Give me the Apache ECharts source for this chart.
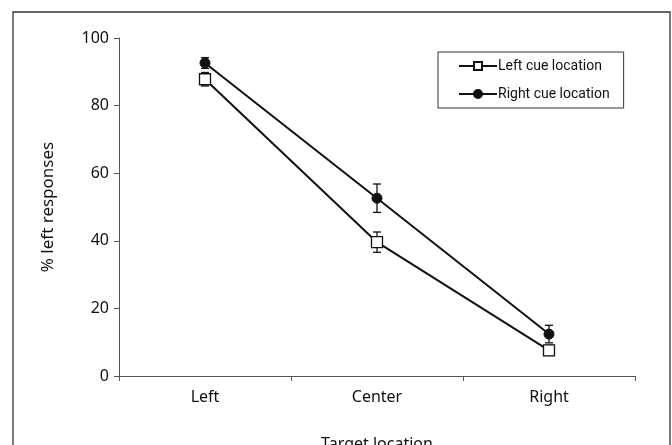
<!DOCTYPE html>
<html>
<head>
<meta charset="utf-8">
<script src="https://cdn.jsdelivr.net/npm/echarts@6/dist/echarts.min.js"></script>
<style>
  html, body { margin: 0; padding: 0; background: #fff; }
  #chart { width: 672px; height: 445px; }
</style>
</head>
<body>
<div id="chart"></div>
<script>
// target locations
const categories = ['Left', 'Center', 'Right'];

// mean % left responses and error (+/-)
const leftCue = [87.8, 39.6, 7.6];
const leftCueErr = [2.0, 3.0, 1.5];
const rightCue = [92.6, 52.6, 12.4];
const rightCueErr = [1.6, 4.2, 2.6];

const yTicks = [0, 20, 40, 60, 80, 100];

const chart = echarts.init(document.getElementById('chart'));

const font = 'Noto Sans';

const errSeries = (vals, errs, name) => ({
    type: 'custom',
    name: name + ' err',
    z: 1,
    silent: true,
    data: vals.map((v, i) => [i, v - errs[i], v + errs[i]]),
    renderItem: (params, api) => {
        const lo = api.coord([api.value(0), api.value(1)]);
        const hi = api.coord([api.value(0), api.value(2)]);
        const w = 4;
        const st = {stroke: '#111', lineWidth: 1.3};
        return {
            type: 'group',
            children: [
                {type: 'line', shape: {x1: lo[0], y1: lo[1], x2: hi[0], y2: hi[1]}, style: st},
                {type: 'line', shape: {x1: lo[0] - w, y1: lo[1], x2: lo[0] + w, y2: lo[1]}, style: st},
                {type: 'line', shape: {x1: hi[0] - w, y1: hi[1], x2: hi[0] + w, y2: hi[1]}, style: st}
            ]
        };
    }
});

chart.setOption({
    animation: false,
    backgroundColor: '#fff',
    graphic: [{
        type: 'rect',
        shape: {x: 13, y: 12, width: 657, height: 450},
        style: {fill: 'none', stroke: '#333', lineWidth: 1.3},
        silent: true
    }],
    grid: {left: 119, right: 37, top: 38, bottom: 69, outerBoundsMode: 'none', containLabel: false},
    legend: {
        left: 438,
        top: 52,
        orient: 'vertical',
        itemWidth: 38,
        itemHeight: 10,
        itemGap: 14,
        padding: [7, 14, 7, 20],
        borderColor: '#333',
        borderWidth: 1,
        textStyle: {fontFamily: 'Roboto', fontSize: 14, color: '#111', padding: [0, 0, 0, -4]},
        data: ['Left cue location', 'Right cue location']
    },
    xAxis: {
        type: 'category',
        data: categories,
        boundaryGap: true,
        name: 'Target location',
        nameLocation: 'middle',
        nameGap: 60,
        nameTextStyle: {fontFamily: font, fontSize: 16, color: '#111'},
        axisLine: {lineStyle: {color: '#555', width: 1}},
        axisTick: {show: true, length: 5, lineStyle: {color: '#555'}},
        axisLabel: {fontFamily: font, fontSize: 16, color: '#111', margin: 13}
    },
    yAxis: {
        type: 'value',
        min: 0,
        max: 100,
        interval: 20,
        name: '% left responses',
        nameLocation: 'middle',
        nameGap: 62,
        nameTextStyle: {fontFamily: font, fontSize: 17, color: '#111'},
        axisLine: {show: true, lineStyle: {color: '#555', width: 1}},
        axisTick: {show: true, length: 5, lineStyle: {color: '#555'}},
        splitLine: {show: false},
        axisLabel: {
            fontFamily: font, fontSize: 16, color: '#111', margin: 10,
            formatter: v => yTicks.includes(v) ? String(v) : ''
        }
    },
    series: [
        errSeries(leftCue, leftCueErr, 'Left cue location'),
        errSeries(rightCue, rightCueErr, 'Right cue location'),
        {
            name: 'Left cue location',
            type: 'line',
            data: leftCue,
            z: 3,
            symbol: 'rect',
            symbolSize: 11,
            lineStyle: {color: '#111', width: 2},
            itemStyle: {color: '#fff', borderColor: '#111', borderWidth: 1.3}
        },
        {
            name: 'Right cue location',
            type: 'line',
            data: rightCue,
            z: 3,
            symbol: 'circle',
            symbolSize: 10,
            lineStyle: {color: '#111', width: 2},
            itemStyle: {color: '#111', borderColor: '#111', borderWidth: 1}
        }
    ]
});
</script>
</body>
</html>
